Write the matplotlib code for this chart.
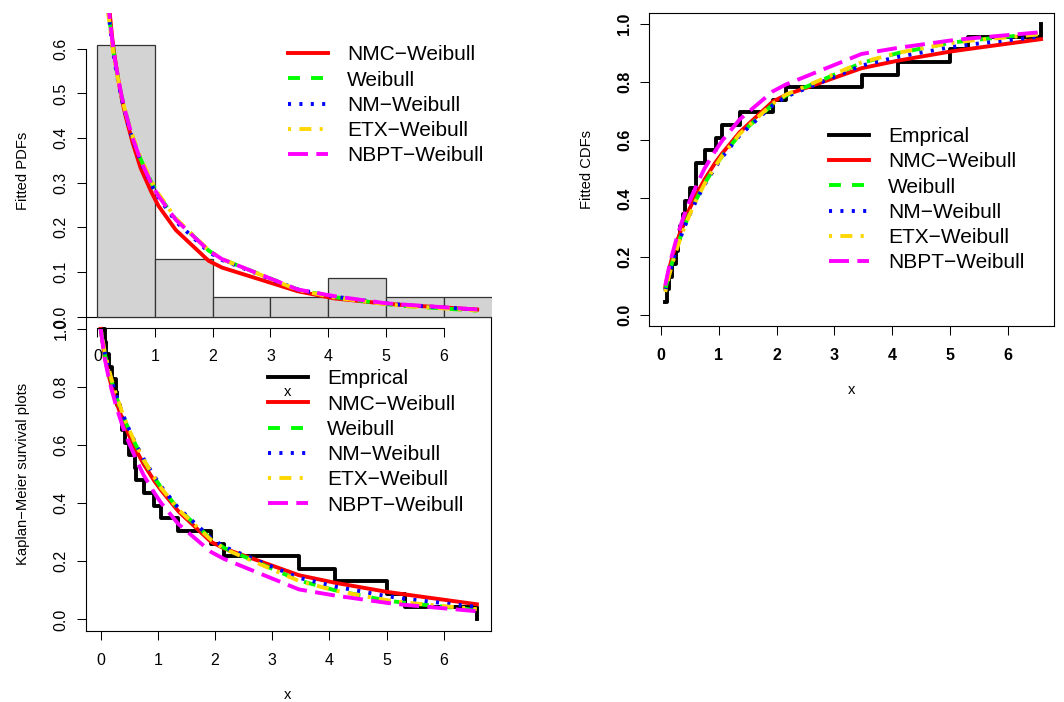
import matplotlib
matplotlib.use("Agg")
import matplotlib.pyplot as plt
import numpy as np

plt.rcParams["font.family"] = ["Liberation Sans", "DejaVu Sans"]
plt.rcParams["lines.scale_dashes"] = False

# sorted sample (n = 23)
x_data = [0.07, 0.10, 0.14, 0.19, 0.26, 0.29, 0.33, 0.37, 0.42, 0.49, 0.60, 0.61,
          0.75, 0.94, 1.06, 1.36, 1.93, 2.16, 3.47, 4.10, 5.00, 5.32, 6.58]

# histogram (density scale), bins of width 1
hist_edges = [0, 1, 2, 3, 4, 5, 6, 7]
hist_density = [0.609, 0.130, 0.0435, 0.0435, 0.087, 0.0435, 0.0435]

# fitted pdfs evaluated at the sorted sample
pdf_nmc = [1.000, 0.900, 0.805, 0.712, 0.622, 0.592, 0.558, 0.526, 0.490, 0.449, 0.395, 0.390,
           0.333, 0.278, 0.248, 0.194, 0.125, 0.110, 0.057, 0.041, 0.029, 0.026, 0.016]
pdf_weib = [0.934, 0.845, 0.764, 0.689, 0.612, 0.585, 0.554, 0.526, 0.494, 0.457, 0.407, 0.403,
            0.353, 0.300, 0.272, 0.218, 0.148, 0.129, 0.061, 0.044, 0.028, 0.024, 0.0135]
pdf_nm = [0.920, 0.836, 0.757, 0.684, 0.607, 0.580, 0.549, 0.521, 0.489, 0.452, 0.402, 0.398,
          0.348, 0.295, 0.267, 0.213, 0.145, 0.127, 0.061, 0.045, 0.030, 0.026, 0.016]
pdf_etx = [0.900, 0.822, 0.748, 0.678, 0.606, 0.580, 0.551, 0.524, 0.493, 0.457, 0.409, 0.405,
           0.356, 0.303, 0.275, 0.220, 0.149, 0.129, 0.060, 0.043, 0.028, 0.024, 0.014]
pdf_nbpt = [0.960, 0.865, 0.778, 0.698, 0.617, 0.589, 0.557, 0.528, 0.495, 0.457, 0.405, 0.401,
            0.350, 0.297, 0.270, 0.217, 0.148, 0.129, 0.061, 0.046, 0.030, 0.027, 0.016]

# fitted cdfs evaluated at the sorted sample
cdf_nmc = [0.095, 0.124, 0.160, 0.197, 0.243, 0.261, 0.284, 0.305, 0.331, 0.364, 0.410, 0.414,
           0.465, 0.524, 0.556, 0.628, 0.733, 0.756, 0.848, 0.874, 0.905, 0.914, 0.948]
cdf_weib = [0.085, 0.111, 0.144, 0.180, 0.225, 0.243, 0.266, 0.288, 0.313, 0.346, 0.394, 0.398,
            0.451, 0.512, 0.547, 0.620, 0.723, 0.754, 0.866, 0.900, 0.935, 0.943, 0.968]
cdf_nm = [0.082, 0.108, 0.141, 0.177, 0.222, 0.240, 0.263, 0.285, 0.310, 0.343, 0.390, 0.394,
          0.447, 0.508, 0.543, 0.617, 0.720, 0.750, 0.857, 0.887, 0.920, 0.929, 0.957]
cdf_etx = [0.078, 0.104, 0.137, 0.174, 0.220, 0.238, 0.261, 0.284, 0.310, 0.343, 0.392, 0.396,
           0.450, 0.512, 0.548, 0.622, 0.726, 0.757, 0.868, 0.901, 0.934, 0.942, 0.965]
cdf_nbpt = [0.100, 0.130, 0.168, 0.208, 0.258, 0.278, 0.303, 0.327, 0.355, 0.390, 0.440, 0.445,
            0.503, 0.565, 0.600, 0.672, 0.768, 0.792, 0.897, 0.918, 0.943, 0.950, 0.972]

fit_names = ["NMC\u2212Weibull", "Weibull", "NM\u2212Weibull", "ETX\u2212Weibull", "NBPT\u2212Weibull"]
fit_colors = ["#FF0000", "#00FF00", "#0000FF", "#FFD700", "#FF00FF"]
fit_styles = ["-", (0, (8.6, 8.0)), (0, (2.2, 6.0)), (0, (2.2, 6.0, 8.6, 6.0)), (0, (14.4, 6.0))]
pdfs = [pdf_nmc, pdf_weib, pdf_nm, pdf_etx, pdf_nbpt]
cdfs = [cdf_nmc, cdf_weib, cdf_nm, cdf_etx, cdf_nbpt]

LW = 2.8
W, H = 1064, 702


def box(l, t, r, b):
    # pixel box (from top-left) -> figure fraction
    return [l / W, 1 - b / H, (r - l) / W, (b - t) / H]


def style_axis(ax, xticks, yticks, ylabels, bold=False, xpad=9, ypad=6.2):
    ax.set_xticks(xticks, [str(t) for t in xticks])
    ax.set_yticks(yticks, ylabels, rotation=90, va="center")
    ax.tick_params(direction="out", length=6.5, width=0.75, labelsize=11.5, color="black")
    ax.tick_params(axis="x", pad=xpad)
    ax.tick_params(axis="y", pad=ypad)
    if bold:
        for lab in ax.get_xticklabels() + ax.get_yticklabels():
            lab.set_fontweight("bold")
    for sp in ax.spines.values():
        sp.set_linewidth(0.8)


def add_legend(ax, ax_x, ax_y):
    ax.legend(loc="upper left", bbox_to_anchor=(ax_x, ax_y), frameon=False, fontsize=15,
              handlelength=1.92, handletextpad=0.91, labelspacing=0.30,
              borderpad=0, borderaxespad=0)


fig = plt.figure(figsize=(10.64, 7.02), dpi=100)

ax_km = fig.add_axes(box(86, 317.3, 491, 631))
ax_pdf = fig.add_axes(box(86, 13, 491.7, 328.3), zorder=3)
ax_cdf = fig.add_axes(box(649.3, 12.7, 1054.3, 326))
ax_pdf.patch.set_visible(False)

ecdf = np.arange(1, len(x_data) + 1) / len(x_data)

# --- fitted pdfs over histogram
ax_pdf.bar(hist_edges[:-1], hist_density, width=1, align="edge",
           color="#D3D3D3", edgecolor="#333333", linewidth=0.9)
for name, col, ls, y in zip(fit_names, fit_colors, fit_styles, pdfs):
    ax_pdf.plot(x_data, y, color=col, linestyle=ls, linewidth=LW, label=name)
ax_pdf.set_xlim(-0.196, 6.832)
ax_pdf.set_ylim(-0.026, 0.680)
style_axis(ax_pdf, [0, 1, 2, 3, 4, 5, 6], [0, 0.1, 0.2, 0.3, 0.4, 0.5, 0.6],
           ["0.0", "0.1", "0.2", "0.3", "0.4", "0.5", "0.6"], xpad=8.6)
ax_pdf.spines["top"].set_visible(False)
ax_pdf.spines["right"].set_visible(False)
ax_pdf.spines["left"].set_bounds(0, 0.6)
ax_pdf.spines["bottom"].set_bounds(0, 6)
add_legend(ax_pdf, 0.498, 0.8975)

# --- Kaplan-Meier survival
ax_km.step([0] + x_data, [1.0] + list(1 - ecdf), where="post",
           color="black", linewidth=LW, label="Emprical")
for name, col, ls, y in zip(fit_names, fit_colors, fit_styles, cdfs):
    ax_km.plot([0] + x_data, [1.0] + [1 - v for v in y], color=col, linestyle=ls,
               linewidth=LW, label=name)
ax_km.set_xlim(-0.257, 6.827)
ax_km.set_ylim(-0.040, 1.040)
style_axis(ax_km, [0, 1, 2, 3, 4, 5, 6], [0, 0.2, 0.4, 0.6, 0.8, 1.0],
           ["0.0", "0.2", "0.4", "0.6", "0.8", "1.0"])
add_legend(ax_km, 0.449, 0.8336)

# --- fitted cdfs
ax_cdf.step(x_data, ecdf, where="post", color="black", linewidth=LW, label="Emprical")
for name, col, ls, y in zip(fit_names, fit_colors, fit_styles, cdfs):
    ax_cdf.plot(x_data, y, color=col, linestyle=ls, linewidth=LW, label=name)
ax_cdf.set_xlim(-0.207, 6.81)
ax_cdf.set_ylim(-0.039, 1.039)
style_axis(ax_cdf, [0, 1, 2, 3, 4, 5, 6], [0, 0.2, 0.4, 0.6, 0.8, 1.0],
           ["0.0", "0.2", "0.4", "0.6", "0.8", "1.0"], bold=True, ypad=5.9)
add_legend(ax_cdf, 0.444, 0.6346)

# axis titles, placed like the R margins
lab = dict(ha="center", va="center", fontsize=10.6)
fig.text(23 / W, 1 - 170.7 / H, "Fitted PDFs", rotation=90, **lab)
fig.text(287.3 / W, 1 - 392.3 / H, "x", zorder=5, **lab)
fig.text(23 / W, 1 - 474.2 / H, "Kaplan\u2212Meier survival plots", rotation=90, **lab)
fig.text(287.3 / W, 1 - 695 / H, "x", **lab)
fig.text(586.7 / W, 1 - 169.4 / H, "Fitted CDFs", rotation=90, **lab)
fig.text(851.8 / W, 1 - 390 / H, "x", **lab)

fig.savefig("out.png", dpi=100)
